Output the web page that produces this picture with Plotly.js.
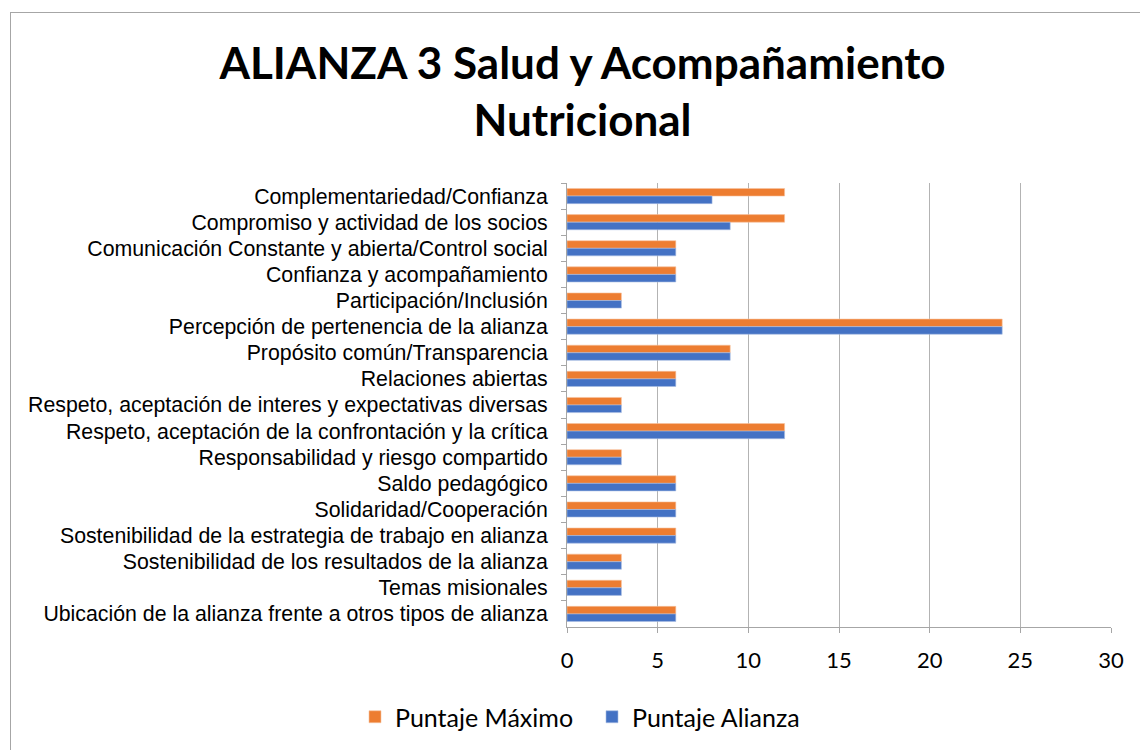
<!DOCTYPE html>
<html>
<head>
<meta charset="utf-8">
<script src="https://cdn.plot.ly/plotly-3.0.1.min.js"></script>
<style>
  html, body { margin: 0; padding: 0; width: 1140px; height: 750px; overflow: hidden; background: #ffffff; }
  #frame { position: absolute; left: 10px; top: 12px; width: 1200px; height: 800px; border: 1px solid #a6a6a6; box-sizing: border-box; }
  #chart { position: absolute; left: 0; top: 0; width: 1140px; height: 750px; }
</style>
</head>
<body>
<div id="frame"></div>
<div id="chart"></div>
<script>
const categories = [
  "Complementariedad/Confianza",
  "Compromiso y actividad de los socios",
  "Comunicación Constante y abierta/Control social",
  "Confianza y acompañamiento",
  "Participación/Inclusión",
  "Percepción de pertenencia de la alianza",
  "Propósito común/Transparencia",
  "Relaciones abiertas",
  "Respeto, aceptación de interes y expectativas diversas",
  "Respeto, aceptación de la confrontación y la crítica",
  "Responsabilidad y riesgo compartido",
  "Saldo pedagógico",
  "Solidaridad/Cooperación",
  "Sostenibilidad de la estrategia de trabajo en alianza",
  "Sostenibilidad de los resultados de la alianza",
  "Temas misionales",
  "Ubicación de la alianza frente a otros tipos de alianza"
];
const puntajeMaximo = [12, 12, 6, 6, 3, 24, 9, 6, 3, 12, 3, 6, 6, 6, 3, 3, 6];
const puntajeAlianza = [8, 9, 6, 6, 3, 24, 9, 6, 3, 12, 3, 6, 6, 6, 3, 3, 6];
const xTicks = [0, 5, 10, 15, 20, 25, 30];
const seriesNames = ["Puntaje Máximo", "Puntaje Alianza"];
const titleText = "ALIANZA 3 Salud y Acompañamiento<br>Nutricional";

const traces = [
  {
    type: "bar", orientation: "h", name: seriesNames[0],
    y: categories, x: puntajeMaximo,
    marker: { color: "#ED7D31", line: { color: "#f6c3a0", width: 0.6 } },
    hoverinfo: "x+y+name"
  },
  {
    type: "bar", orientation: "h", name: seriesNames[1],
    y: categories, x: puntajeAlianza,
    marker: { color: "#4472C4", line: { color: "#a9bde3", width: 0.6 } },
    hoverinfo: "x+y+name"
  }
];

const layout = {
  width: 1140, height: 750,
  paper_bgcolor: "rgba(0,0,0,0)",
  plot_bgcolor: "rgba(0,0,0,0)",
  margin: { l: 567, r: 29, t: 183, b: 123, pad: 0 },
  barmode: "group",
  bargap: 0.42,
  bargroupgap: 0,
  title: {
    text: titleText,
    font: { family: "Lato, 'Open Sans', sans-serif", size: 44, color: "#000000", weight: 700 },
    xref: "container", x: 0.511, xanchor: "center",
    yref: "container", y: 0.895, yanchor: "top"
  },
  xaxis: {
    range: [0, 30],
    tickvals: xTicks,
    ticktext: xTicks.map(String),
    showgrid: true, gridcolor: "#b3b3b3", gridwidth: 1,
    showline: true, linecolor: "#a6a6a6", linewidth: 1,
    ticks: "outside", ticklen: 5, tickcolor: "#a6a6a6",
    tickfont: { family: "Lato, 'Open Sans', sans-serif", size: 22, color: "#000000" },
    ticklabelstandoff: 9,
    zeroline: false, fixedrange: true
  },
  yaxis: {
    type: "category",
    autorange: "reversed",
    showgrid: false,
    showline: true, linecolor: "#a6a6a6", linewidth: 1,
    ticks: "outside", ticklen: 5, tickcolor: "#a6a6a6",
    tickson: "boundaries",
    tickfont: { family: "'Liberation Sans', Arial, sans-serif", size: 21.3, color: "#000000" },
    ticklabelstandoff: 14,
    fixedrange: true
  },
  legend: {
    orientation: "h",
    xref: "container", x: 355 / 1140, xanchor: "left",
    yref: "container", y: 0.044, yanchor: "middle",
    font: { family: "Lato, 'Open Sans', sans-serif", size: 25, color: "#000000" },
    traceorder: "normal",
    itemwidth: 30,
    entrywidth: 192,
    entrywidthmode: "pixels"
  },
  showlegend: true
};

Plotly.newPlot("chart", traces, layout, { displayModeBar: false, staticPlot: false });
</script>
</body>
</html>
